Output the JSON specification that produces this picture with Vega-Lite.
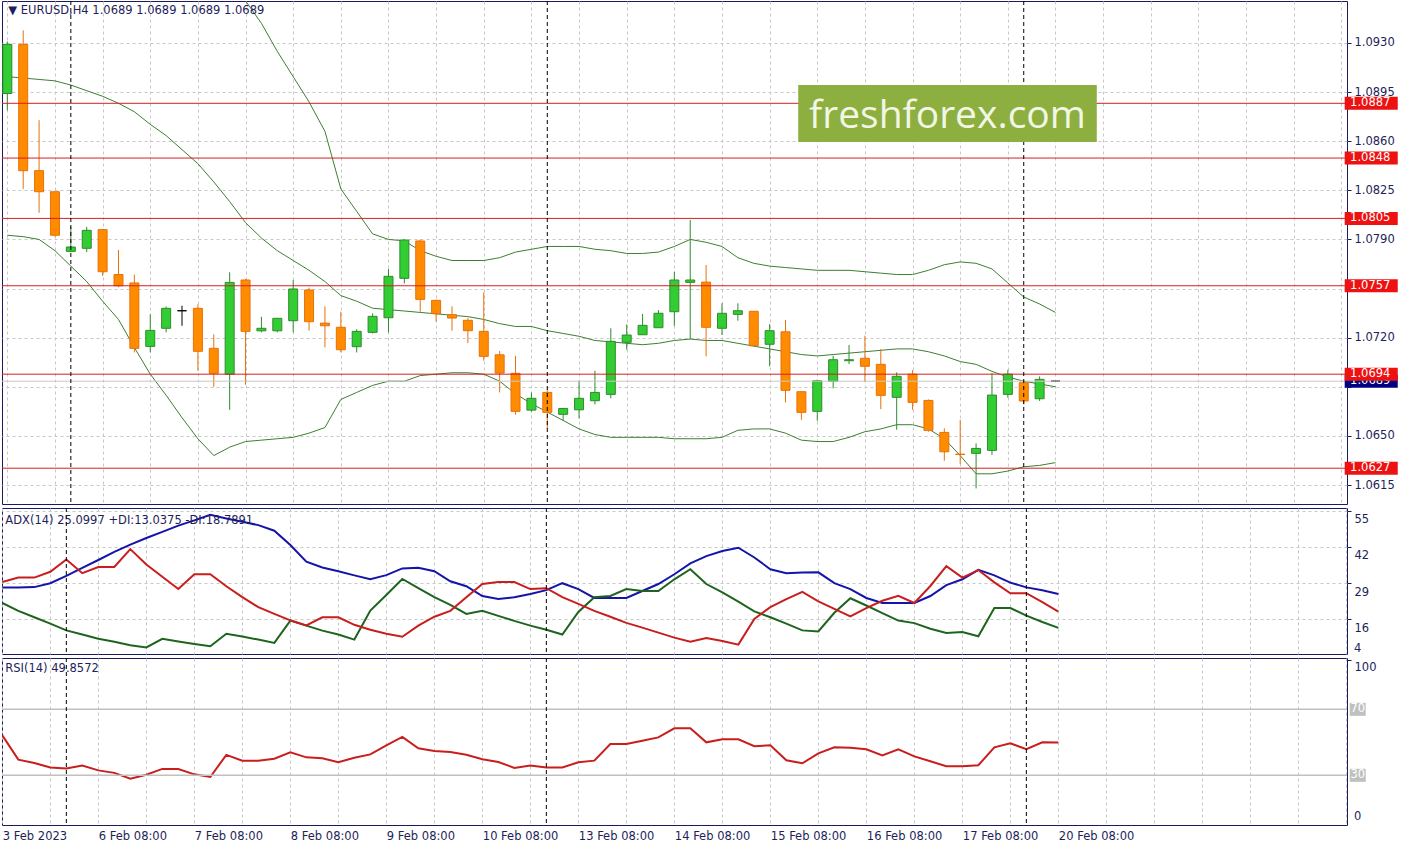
{
"$schema": "https://vega.github.io/schema/vega-lite/v6.json",
"background": "white",
"padding": {"left": 0, "top": 0, "right": 0, "bottom": 0},
"spacing": 2,
"config": {
  "view": {"stroke": "#1A1A5E", "strokeWidth": 1},
  "axis": {"labelFont": "DejaVu Sans", "labelFontSize": 11.5, "labelColor": "#1E1E5A", "tickColor": "#1A1A5E", "domainColor": "#1A1A5E", "gridColor": "#C8C8C8", "gridDash": [3, 3], "gridWidth": 1, "labelOverlap": false, "labelFlush": false, "labelBound": false},
  "text": {"font": "DejaVu Sans"}
},
"datasets": {
  "bars": [
    {"i":0,"o":1.0894,"h":1.0931,"l":1.0882,"c":1.0929,"bu":1.1019,"bm":1.0906,"bl":1.0793,"adx":27.5,"pdi":21.9,"mdi":29.4,"rsi":54.2},
    {"i":1,"o":1.0929,"h":1.0939,"l":1.0826,"c":1.0839,"bu":1.1018,"bm":1.0905,"bl":1.0792,"adx":27.5,"pdi":19.1,"mdi":31.0,"rsi":39.5},
    {"i":2,"o":1.0839,"h":1.0875,"l":1.0809,"c":1.0824,"bu":1.1018,"bm":1.0904,"bl":1.0790,"adx":27.6,"pdi":16.8,"mdi":31.0,"rsi":37.5},
    {"i":3,"o":1.0824,"h":1.0824,"l":1.0792,"c":1.0793,"bu":1.1024,"bm":1.0903,"bl":1.0782,"adx":29.0,"pdi":14.5,"mdi":33.1,"rsi":34.8},
    {"i":4,"o":1.07815,"h":1.0799,"l":1.0781,"c":1.07846,"bu":1.1029,"bm":1.0900,"bl":1.0771,"adx":31.6,"pdi":12.1,"mdi":37.5,"rsi":34.1},
    {"i":5,"o":1.07837,"h":1.0799,"l":1.0781,"c":1.07965,"bu":1.1032,"bm":1.0896,"bl":1.0760,"adx":34.5,"pdi":10.6,"mdi":32.6,"rsi":35.9},
    {"i":6,"o":1.0797,"h":1.0797,"l":1.0764,"c":1.0767,"bu":1.1038,"bm":1.0892,"bl":1.0746,"adx":37.3,"pdi":9.1,"mdi":34.8,"rsi":33.0},
    {"i":7,"o":1.0765,"h":1.07825,"l":1.0756,"c":1.0757,"bu":1.1041,"bm":1.0887,"bl":1.0733,"adx":40.2,"pdi":8.0,"mdi":34.8,"rsi":31.5},
    {"i":8,"o":1.0759,"h":1.0765,"l":1.07095,"c":1.07124,"bu":1.1049,"bm":1.0881,"bl":1.0713,"adx":42.8,"pdi":6.8,"mdi":41.2,"rsi":28.0},
    {"i":9,"o":1.07138,"h":1.07366,"l":1.07095,"c":1.07252,"bu":1.1050,"bm":1.0872,"bl":1.0694,"adx":45.2,"pdi":6.0,"mdi":35.7,"rsi":30.4},
    {"i":10,"o":1.07267,"h":1.07423,"l":1.07238,"c":1.07409,"bu":1.1049,"bm":1.0864,"bl":1.0679,"adx":47.4,"pdi":9.1,"mdi":31.3,"rsi":33.9},
    {"i":11,"o":1.07392,"h":1.07428,"l":1.07285,"c":1.07392,"bu":1.1045,"bm":1.0854,"bl":1.0663,"adx":49.6,"pdi":8.1,"mdi":26.9,"rsi":33.8},
    {"i":12,"o":1.07409,"h":1.07438,"l":1.06964,"c":1.07103,"bu":1.1040,"bm":1.0844,"bl":1.0648,"adx":51.5,"pdi":7.2,"mdi":32.2,"rsi":30.6},
    {"i":13,"o":1.07124,"h":1.07224,"l":1.0685,"c":1.06946,"bu":1.1026,"bm":1.0831,"bl":1.0636,"adx":53.5,"pdi":6.4,"mdi":32.2,"rsi":29.0},
    {"i":14,"o":1.0694,"h":1.07666,"l":1.06686,"c":1.07594,"bu":1.0992,"bm":1.0817,"bl":1.0642,"adx":52.2,"pdi":10.9,"mdi":27.9,"rsi":42.4},
    {"i":15,"o":1.07611,"h":1.07618,"l":1.06865,"c":1.07245,"bu":1.0960,"bm":1.0802,"bl":1.0646,"adx":51.0,"pdi":9.9,"mdi":24.0,"rsi":38.9},
    {"i":16,"o":1.07249,"h":1.07349,"l":1.07238,"c":1.07267,"bu":1.0944,"bm":1.0791,"bl":1.0647,"adx":49.8,"pdi":8.8,"mdi":20.4,"rsi":38.9},
    {"i":17,"o":1.07249,"h":1.0734,"l":1.07238,"c":1.07338,"bu":1.0924,"bm":1.0782,"bl":1.0648,"adx":47.8,"pdi":7.6,"mdi":18.0,"rsi":40.1},
    {"i":18,"o":1.07321,"h":1.07611,"l":1.07238,"c":1.07547,"bu":1.0906,"bm":1.0775,"bl":1.0649,"adx":42.7,"pdi":15.6,"mdi":15.7,"rsi":43.9},
    {"i":19,"o":1.0754,"h":1.07556,"l":1.0725,"c":1.07314,"bu":1.0888,"bm":1.0768,"bl":1.0652,"adx":36.7,"pdi":13.8,"mdi":13.9,"rsi":40.9},
    {"i":20,"o":1.07304,"h":1.07423,"l":1.07131,"c":1.07285,"bu":1.0867,"bm":1.0760,"bl":1.0656,"adx":34.6,"pdi":12.0,"mdi":16.8,"rsi":40.3},
    {"i":21,"o":1.07274,"h":1.07385,"l":1.07095,"c":1.07114,"bu":1.0826,"bm":1.0750,"bl":1.0676,"adx":33.3,"pdi":10.6,"mdi":16.8,"rsi":37.9},
    {"i":22,"o":1.07136,"h":1.0726,"l":1.07095,"c":1.07245,"bu":1.0810,"bm":1.0746,"bl":1.0681,"adx":31.8,"pdi":8.8,"mdi":14.1,"rsi":40.6},
    {"i":23,"o":1.07238,"h":1.07373,"l":1.0723,"c":1.07352,"bu":1.0794,"bm":1.0741,"bl":1.0686,"adx":30.4,"pdi":19.2,"mdi":12.3,"rsi":42.7},
    {"i":24,"o":1.07342,"h":1.07689,"l":1.07238,"c":1.07637,"bu":1.0790,"bm":1.0740,"bl":1.0689,"adx":31.9,"pdi":24.8,"mdi":10.9,"rsi":48.2},
    {"i":25,"o":1.07623,"h":1.0790,"l":1.07587,"c":1.07896,"bu":1.0789,"bm":1.0739,"bl":1.0689,"adx":34.3,"pdi":30.5,"mdi":9.8,"rsi":53.3},
    {"i":26,"o":1.07889,"h":1.0790,"l":1.07385,"c":1.07473,"bu":1.0782,"bm":1.0738,"bl":1.0693,"adx":34.5,"pdi":27.2,"mdi":13.8,"rsi":46.4},
    {"i":27,"o":1.07466,"h":1.0747,"l":1.07314,"c":1.07371,"bu":1.0778,"bm":1.0737,"bl":1.0694,"adx":33.3,"pdi":24.0,"mdi":17.0,"rsi":44.7},
    {"i":28,"o":1.07364,"h":1.07423,"l":1.0725,"c":1.0734,"bu":1.0775,"bm":1.0736,"bl":1.0695,"adx":29.7,"pdi":21.2,"mdi":19.1,"rsi":44.1},
    {"i":29,"o":1.07324,"h":1.0734,"l":1.07162,"c":1.0725,"bu":1.0775,"bm":1.0735,"bl":1.0695,"adx":27.9,"pdi":18.0,"mdi":24.0,"rsi":42.5},
    {"i":30,"o":1.07245,"h":1.07523,"l":1.07036,"c":1.07067,"bu":1.0775,"bm":1.0733,"bl":1.0694,"adx":24.4,"pdi":19.1,"mdi":28.7,"rsi":39.7},
    {"i":31,"o":1.07078,"h":1.07105,"l":1.0681,"c":1.06948,"bu":1.0777,"bm":1.0730,"bl":1.0689,"adx":23.3,"pdi":17.3,"mdi":29.4,"rsi":38.1},
    {"i":32,"o":1.06946,"h":1.07071,"l":1.06651,"c":1.06675,"bu":1.0781,"bm":1.0728,"bl":1.0680,"adx":24.0,"pdi":15.5,"mdi":29.4,"rsi":34.5},
    {"i":33,"o":1.06684,"h":1.0681,"l":1.06672,"c":1.06768,"bu":1.0783,"bm":1.0728,"bl":1.0673,"adx":25.1,"pdi":13.8,"mdi":26.9,"rsi":35.9},
    {"i":34,"o":1.0681,"h":1.0683,"l":1.06554,"c":1.06668,"bu":1.0785,"bm":1.0725,"bl":1.0667,"adx":26.5,"pdi":12.3,"mdi":27.2,"rsi":34.8},
    {"i":35,"o":1.06654,"h":1.0670,"l":1.06608,"c":1.06696,"bu":1.0785,"bm":1.0723,"bl":1.0661,"adx":29.0,"pdi":10.6,"mdi":24.0,"rsi":34.8},
    {"i":36,"o":1.06686,"h":1.06893,"l":1.06625,"c":1.06768,"bu":1.0785,"bm":1.0721,"bl":1.0655,"adx":26.9,"pdi":18.7,"mdi":21.6,"rsi":37.9},
    {"i":37,"o":1.06751,"h":1.06964,"l":1.06725,"c":1.0681,"bu":1.0783,"bm":1.0718,"bl":1.0651,"adx":23.7,"pdi":24.0,"mdi":19.1,"rsi":38.9},
    {"i":38,"o":1.06796,"h":1.07267,"l":1.06768,"c":1.07174,"bu":1.0782,"bm":1.0717,"bl":1.0649,"adx":23.7,"pdi":24.4,"mdi":17.0,"rsi":49.0},
    {"i":39,"o":1.07167,"h":1.07295,"l":1.07114,"c":1.07219,"bu":1.0780,"bm":1.0716,"bl":1.0649,"adx":23.7,"pdi":26.9,"mdi":14.8,"rsi":49.0},
    {"i":40,"o":1.07221,"h":1.07369,"l":1.0722,"c":1.07288,"bu":1.0780,"bm":1.0715,"bl":1.0649,"adx":26.2,"pdi":26.2,"mdi":13.1,"rsi":51.0},
    {"i":41,"o":1.07271,"h":1.07397,"l":1.0727,"c":1.07374,"bu":1.0781,"bm":1.0716,"bl":1.0649,"adx":28.7,"pdi":26.2,"mdi":11.3,"rsi":53.0},
    {"i":42,"o":1.07385,"h":1.0767,"l":1.07285,"c":1.07611,"bu":1.0785,"bm":1.0718,"bl":1.0648,"adx":32.2,"pdi":30.4,"mdi":9.5,"rsi":58.5},
    {"i":43,"o":1.07594,"h":1.08038,"l":1.0719,"c":1.07611,"bu":1.0790,"bm":1.0719,"bl":1.0648,"adx":36.1,"pdi":34.0,"mdi":8.0,"rsi":58.5},
    {"i":44,"o":1.07596,"h":1.07718,"l":1.07067,"c":1.07274,"bu":1.0788,"bm":1.0718,"bl":1.0648,"adx":38.7,"pdi":28.7,"mdi":9.4,"rsi":50.0},
    {"i":45,"o":1.07267,"h":1.07445,"l":1.07219,"c":1.07374,"bu":1.0785,"bm":1.0718,"bl":1.0649,"adx":40.5,"pdi":25.7,"mdi":8.3,"rsi":51.8},
    {"i":46,"o":1.07366,"h":1.07445,"l":1.07321,"c":1.07392,"bu":1.0777,"bm":1.0716,"bl":1.0654,"adx":41.7,"pdi":22.4,"mdi":7.0,"rsi":51.8},
    {"i":47,"o":1.07388,"h":1.0739,"l":1.0714,"c":1.07143,"bu":1.0773,"bm":1.0714,"bl":1.0655,"adx":38.2,"pdi":18.9,"mdi":16.2,"rsi":47.6},
    {"i":48,"o":1.07153,"h":1.07297,"l":1.06996,"c":1.0725,"bu":1.0771,"bm":1.0712,"bl":1.0655,"adx":34.0,"pdi":16.8,"mdi":20.4,"rsi":48.2},
    {"i":49,"o":1.07242,"h":1.07326,"l":1.06739,"c":1.06825,"bu":1.0770,"bm":1.0710,"bl":1.0652,"adx":32.6,"pdi":14.5,"mdi":23.3,"rsi":39.1},
    {"i":50,"o":1.06815,"h":1.0682,"l":1.06615,"c":1.06668,"bu":1.0769,"bm":1.0708,"bl":1.0647,"adx":32.8,"pdi":12.1,"mdi":25.9,"rsi":37.3},
    {"i":51,"o":1.06675,"h":1.0690,"l":1.06608,"c":1.06893,"bu":1.0768,"bm":1.0707,"bl":1.0646,"adx":32.9,"pdi":11.7,"mdi":22.5,"rsi":43.3},
    {"i":52,"o":1.06889,"h":1.07071,"l":1.06839,"c":1.07043,"bu":1.0768,"bm":1.0708,"bl":1.0646,"adx":29.0,"pdi":18.4,"mdi":19.8,"rsi":47.0},
    {"i":53,"o":1.07036,"h":1.07148,"l":1.07012,"c":1.07043,"bu":1.0768,"bm":1.0709,"bl":1.0649,"adx":26.9,"pdi":23.6,"mdi":17.1,"rsi":46.7},
    {"i":54,"o":1.07053,"h":1.07214,"l":1.06886,"c":1.06996,"bu":1.0767,"bm":1.0710,"bl":1.0653,"adx":23.7,"pdi":21.0,"mdi":20.1,"rsi":45.8},
    {"i":55,"o":1.0701,"h":1.07119,"l":1.06691,"c":1.06789,"bu":1.0766,"bm":1.0711,"bl":1.0655,"adx":21.9,"pdi":18.3,"mdi":22.7,"rsi":42.1},
    {"i":56,"o":1.06775,"h":1.06953,"l":1.06544,"c":1.06925,"bu":1.0765,"bm":1.0712,"bl":1.0658,"adx":21.9,"pdi":15.6,"mdi":24.5,"rsi":45.8},
    {"i":57,"o":1.0694,"h":1.06969,"l":1.06686,"c":1.06739,"bu":1.0765,"bm":1.0712,"bl":1.0658,"adx":21.9,"pdi":14.7,"mdi":21.9,"rsi":41.5},
    {"i":58,"o":1.06753,"h":1.0676,"l":1.0653,"c":1.0654,"bu":1.0768,"bm":1.0710,"bl":1.0655,"adx":24.4,"pdi":12.7,"mdi":28.0,"rsi":38.5},
    {"i":59,"o":1.06525,"h":1.06554,"l":1.06323,"c":1.06387,"bu":1.0772,"bm":1.0707,"bl":1.0648,"adx":28.3,"pdi":11.2,"mdi":35.1,"rsi":35.5},
    {"i":60,"o":1.0637,"h":1.06615,"l":1.06299,"c":1.06368,"bu":1.0774,"bm":1.0703,"bl":1.0636,"adx":30.4,"pdi":11.5,"mdi":31.0,"rsi":35.5},
    {"i":61,"o":1.06376,"h":1.06447,"l":1.06126,"c":1.06411,"bu":1.0773,"bm":1.0701,"bl":1.0623,"adx":33.8,"pdi":10.0,"mdi":33.7,"rsi":36.1},
    {"i":62,"o":1.06397,"h":1.06948,"l":1.06364,"c":1.06791,"bu":1.0769,"bm":1.0696,"bl":1.0623,"adx":31.8,"pdi":20.1,"mdi":29.3,"rsi":47.0},
    {"i":63,"o":1.06796,"h":1.06971,"l":1.06772,"c":1.0694,"bu":1.0759,"bm":1.0692,"bl":1.0625,"adx":29.2,"pdi":20.1,"mdi":25.4,"rsi":49.4},
    {"i":64,"o":1.06879,"h":1.06896,"l":1.06725,"c":1.06749,"bu":1.0749,"bm":1.0689,"bl":1.0628,"adx":27.5,"pdi":17.4,"mdi":25.4,"rsi":45.8},
    {"i":65,"o":1.06765,"h":1.06924,"l":1.06749,"c":1.06903,"bu":1.0744,"bm":1.0687,"bl":1.0629,"adx":26.5,"pdi":15.1,"mdi":22.2,"rsi":50.0},
    {"i":66,"o":1.0689,"h":1.0689,"l":1.0689,"c":1.0689,"bu":1.0738,"bm":1.0685,"bl":1.0631,"adx":25.1,"pdi":13.0,"mdi":18.8,"rsi":49.9}
  ],
  "levels": [{"p":1.0887},{"p":1.0848},{"p":1.0805},{"p":1.0757},{"p":1.0694},{"p":1.0627}],
  "sep": [{"i":4},{"i":34},{"i":64}],
  "rsilv": [{"lv":70},{"lv":30}],
  "one": [{}]
},
"vconcat": [
{
  "width": 1345, "height": 503,
  "layer": [
    {"data": {"name": "bars"}, "mark": {"type": "line", "color": "#3E7E32", "strokeWidth": 1, "clip": true},
     "encoding": {
       "x": {"field": "i", "type": "quantitative", "title": null, "scale": {"domain": [-0.02, 84.04], "nice": false, "zero": false},
             "axis": {"values": [0,3,6,9,12,15,18,21,24,27,30,33,36,39,42,45,48,51,54,57,60,63,66,69,72,75,78,81,84], "labels": false, "ticks": false, "domain": false, "grid": true}},
       "y": {"field": "bu", "type": "quantitative", "title": null, "scale": {"domain": [1.06015, 1.09599], "nice": false, "zero": false},
             "axis": {"orient": "right", "values": [1.0615,1.065,1.0685,1.072,1.0755,1.079,1.0825,1.086,1.0895,1.093], "grid": true, "tickSize": 4, "labelPadding": 3, "domain": false,
                      "labelExpr": "(datum.value > 1.0750 && datum.value < 1.0760) || (datum.value > 1.0680 && datum.value < 1.0690) ? '' : format(datum.value, '.4f')"}}
     }},
    {"data": {"name": "bars"}, "mark": {"type": "line", "color": "#3E7E32", "strokeWidth": 1, "clip": true},
     "encoding": {
       "x": {"field": "i", "type": "quantitative", "title": null},
       "y": {"field": "bm", "type": "quantitative", "title": null}
     }},
    {"data": {"name": "bars"}, "mark": {"type": "line", "color": "#3E7E32", "strokeWidth": 1, "clip": true},
     "encoding": {
       "x": {"field": "i", "type": "quantitative", "title": null},
       "y": {"field": "bl", "type": "quantitative", "title": null}
     }},
    {"data": {"name": "bars"}, "transform": [{"filter": "datum.c > datum.o"}],
     "layer": [
       {"mark": {"type": "rule", "strokeWidth": 1, "color": "#2E8B2E", "clip": true},
        "encoding": {"x": {"field": "i", "type": "quantitative", "title": null}, "y": {"field": "l", "type": "quantitative", "title": null}, "y2": {"field": "h"}}},
       {"mark": {"type": "bar", "width": 9, "strokeWidth": 1, "fill": "#32CD32", "stroke": "#2E8B2E", "clip": true},
        "encoding": {"x": {"field": "i", "type": "quantitative", "title": null}, "y": {"field": "o", "type": "quantitative", "title": null}, "y2": {"field": "c"}}}
     ]},
    {"data": {"name": "bars"}, "transform": [{"filter": "datum.c < datum.o"}],
     "layer": [
       {"mark": {"type": "rule", "strokeWidth": 1, "color": "#E8700A", "clip": true},
        "encoding": {"x": {"field": "i", "type": "quantitative", "title": null}, "y": {"field": "l", "type": "quantitative", "title": null}, "y2": {"field": "h"}}},
       {"mark": {"type": "bar", "width": 9, "strokeWidth": 1, "fill": "#FF8C00", "stroke": "#E8700A", "clip": true},
        "encoding": {"x": {"field": "i", "type": "quantitative", "title": null}, "y": {"field": "o", "type": "quantitative", "title": null}, "y2": {"field": "c"}}}
     ]},
    {"data": {"name": "bars"}, "transform": [{"filter": "datum.c == datum.o"}],
     "layer": [
       {"mark": {"type": "rule", "strokeWidth": 1, "color": "#000000", "clip": true},
        "encoding": {"x": {"field": "i", "type": "quantitative", "title": null}, "y": {"field": "l", "type": "quantitative", "title": null}, "y2": {"field": "h"}}},
       {"mark": {"type": "bar", "width": 9, "strokeWidth": 1, "fill": "#000000", "stroke": "#000000", "clip": true},
        "encoding": {"x": {"field": "i", "type": "quantitative", "title": null}, "y": {"field": "o", "type": "quantitative", "title": null}, "y2": {"field": "c"}}}
     ]},
    {"data": {"name": "one"}, "mark": {"type": "rule", "color": "#C8C8C8", "strokeWidth": 1},
     "encoding": {"y": {"datum": 1.0689, "type": "quantitative", "title": null}}},
    {"data": {"name": "levels"}, "mark": {"type": "rule", "color": "#D42020", "strokeWidth": 1},
     "encoding": {"y": {"field": "p", "type": "quantitative", "title": null}}},
    {"data": {"name": "sep"}, "mark": {"type": "rule", "color": "#000000", "strokeWidth": 1, "strokeDash": [4, 3]},
     "encoding": {"x": {"field": "i", "type": "quantitative", "title": null}}},
    {"data": {"name": "one"}, "mark": {"type": "rect", "color": "#8DAF3F"},
     "encoding": {
       "x": {"datum": 49.8, "type": "quantitative", "title": null}, "x2": {"datum": 68.6},
       "y": {"datum": 1.09001, "type": "quantitative", "title": null}, "y2": {"datum": 1.08595}
     }},
    {"data": {"name": "one"}, "mark": {"type": "text", "text": "freshforex.com", "font": "Open Sans", "fontSize": 39, "color": "#F2F6E4", "align": "center", "baseline": "middle"},
     "encoding": {
       "x": {"datum": 59.2, "type": "quantitative", "title": null},
       "y": {"datum": 1.08782, "type": "quantitative", "title": null}
     }},
    {"data": {"name": "one"}, "mark": {"type": "text", "text": "▼  EURUSD,H4  1.0689 1.0689 1.0689 1.0689", "fontSize": 11.5, "color": "#1E1E5A", "align": "left", "baseline": "middle", "dx": 1},
     "encoding": {
       "x": {"datum": 0, "type": "quantitative", "title": null},
       "y": {"datum": 1.09525, "type": "quantitative", "title": null}
     }},
    {"data": {"name": "one"}, "mark": {"type": "rect", "color": "#000080", "clip": false},
     "encoding": {
       "x": {"datum": 84.21, "type": "quantitative", "title": null}, "x2": {"datum": 87.55},
       "y": {"datum": 1.06936, "type": "quantitative", "title": null}, "y2": {"datum": 1.06844}
     }},
    {"data": {"name": "one"}, "mark": {"type": "text", "text": "1.0689", "fontSize": 11.5, "color": "#FFFFFF", "align": "left", "baseline": "middle", "clip": false},
     "encoding": {
       "x": {"datum": 84.55, "type": "quantitative", "title": null},
       "y": {"datum": 1.0689, "type": "quantitative", "title": null}
     }},
    {"data": {"name": "levels"}, "mark": {"type": "rect", "color": "#EE1111", "clip": false, "height": 13},
     "encoding": {
       "x": {"datum": 84.21, "type": "quantitative", "title": null}, "x2": {"datum": 87.55},
       "y": {"field": "p", "type": "quantitative", "title": null}
     }},
    {"data": {"name": "levels"}, "mark": {"type": "text", "fontSize": 11.5, "color": "#FFFFFF", "align": "left", "baseline": "middle", "clip": false},
     "encoding": {
       "x": {"datum": 84.55, "type": "quantitative", "title": null},
       "y": {"field": "p", "type": "quantitative", "title": null},
       "text": {"field": "p", "type": "quantitative", "format": ".4f"}
     }}
  ]
},
{
  "width": 1345, "height": 146,
  "layer": [
    {"data": {"name": "bars"}, "mark": {"type": "line", "color": "#1414A8", "strokeWidth": 2, "clip": true},
     "encoding": {
       "x": {"field": "i", "type": "quantitative", "title": null, "scale": {"domain": [-0.02, 84.04], "nice": false, "zero": false},
             "axis": {"values": [0,3,6,9,12,15,18,21,24,27,30,33,36,39,42,45,48,51,54,57,60,63,66,69,72,75,78,81,84], "labels": false, "ticks": false, "domain": false, "grid": true}},
       "y": {"field": "adx", "type": "quantitative", "title": null, "scale": {"domain": [3.64, 55.93], "nice": false, "zero": false},
             "axis": {"orient": "right", "values": [55, 42, 29, 16], "grid": true, "tickSize": 4, "labelPadding": 3, "domain": false, "labelOffset": 9}}
     }},
    {"data": {"name": "bars"}, "mark": {"type": "line", "color": "#1E641E", "strokeWidth": 2, "clip": true},
     "encoding": {"x": {"field": "i", "type": "quantitative", "title": null}, "y": {"field": "pdi", "type": "quantitative", "title": null}}},
    {"data": {"name": "bars"}, "mark": {"type": "line", "color": "#C81E1E", "strokeWidth": 2, "clip": true},
     "encoding": {"x": {"field": "i", "type": "quantitative", "title": null}, "y": {"field": "mdi", "type": "quantitative", "title": null}}},
    {"data": {"name": "sep"}, "mark": {"type": "rule", "color": "#000000", "strokeWidth": 1, "strokeDash": [4, 3]},
     "encoding": {"x": {"field": "i", "type": "quantitative", "title": null}}},
    {"data": {"name": "one"}, "mark": {"type": "text", "text": "ADX(14) 25.0997 +DI:13.0375 -DI:18.7891", "fontSize": 11.5, "color": "#1E1E5A", "align": "left", "baseline": "middle", "dx": 3},
     "encoding": {"x": {"datum": 0, "type": "quantitative", "title": null}, "y": {"datum": 51.4, "type": "quantitative", "title": null}}},
    {"data": {"name": "one"}, "mark": {"type": "text", "text": "4", "fontSize": 11.5, "color": "#1E1E5A", "align": "left", "baseline": "middle", "dx": 7, "dy": -4, "clip": false},
     "encoding": {"x": {"datum": 84.04, "type": "quantitative", "title": null}, "y": {"datum": 4, "type": "quantitative", "title": null}}}
  ]
},
{
  "width": 1345, "height": 167,
  "layer": [
    {"data": {"name": "bars"}, "mark": {"type": "line", "color": "#C81E1E", "strokeWidth": 2, "clip": true},
     "encoding": {
       "x": {"field": "i", "type": "quantitative", "title": null, "scale": {"domain": [-0.02, 84.04], "nice": false, "zero": false},
             "axis": {"values": [0,3,6,9,12,15,18,21,24,27,30,33,36,39,42,45,48,51,54,57,60,63,66,69,72,75,78,81,84], "grid": true, "domain": false, "ticks": false, "labelPadding": 5, "labelAlign": "left",
                      "labelExpr": "datum.value % 6 === 0 && datum.value <= 66 ? ['3 Feb 2023','6 Feb 08:00','7 Feb 08:00','8 Feb 08:00','9 Feb 08:00','10 Feb 08:00','13 Feb 08:00','14 Feb 08:00','15 Feb 08:00','16 Feb 08:00','17 Feb 08:00','20 Feb 08:00'][datum.value / 6] : ''"}},
       "y": {"field": "rsi", "type": "quantitative", "title": null, "scale": {"domain": [-0.1, 101.1], "nice": false, "zero": false},
             "axis": {"orient": "right", "values": [100], "grid": false, "tickSize": 4, "labelPadding": 3, "domain": false, "labelOffset": 8}}
     }},
    {"data": {"name": "rsilv"}, "mark": {"type": "rule", "color": "#C0C0C0", "strokeWidth": 1.5},
     "encoding": {"y": {"field": "lv", "type": "quantitative", "title": null}}},
    {"data": {"name": "sep"}, "mark": {"type": "rule", "color": "#000000", "strokeWidth": 1, "strokeDash": [4, 3]},
     "encoding": {"x": {"field": "i", "type": "quantitative", "title": null}}},
    {"data": {"name": "one"}, "mark": {"type": "text", "text": "RSI(14) 49.8572", "fontSize": 11.5, "color": "#1E1E5A", "align": "left", "baseline": "middle", "dx": 3},
     "encoding": {"x": {"datum": 0, "type": "quantitative", "title": null}, "y": {"datum": 94.3, "type": "quantitative", "title": null}}},
    {"data": {"name": "one"}, "mark": {"type": "text", "text": "0", "fontSize": 11.5, "color": "#1E1E5A", "align": "left", "baseline": "middle", "dx": 7, "dy": -8, "clip": false},
     "encoding": {"x": {"datum": 84.04, "type": "quantitative", "title": null}, "y": {"datum": 0, "type": "quantitative", "title": null}}},
    {"data": {"name": "rsilv"}, "mark": {"type": "rect", "color": "#C0C0C0", "clip": false, "height": 13},
     "encoding": {
       "x": {"datum": 84.21, "type": "quantitative", "title": null}, "x2": {"datum": 85.21},
       "y": {"field": "lv", "type": "quantitative", "title": null}
     }},
    {"data": {"name": "rsilv"}, "mark": {"type": "text", "fontSize": 11.5, "color": "#FFFFFF", "align": "center", "baseline": "middle", "clip": false},
     "encoding": {
       "x": {"datum": 84.71, "type": "quantitative", "title": null},
       "y": {"field": "lv", "type": "quantitative", "title": null},
       "text": {"field": "lv", "type": "quantitative"}
     }}
  ]
}
]
}
